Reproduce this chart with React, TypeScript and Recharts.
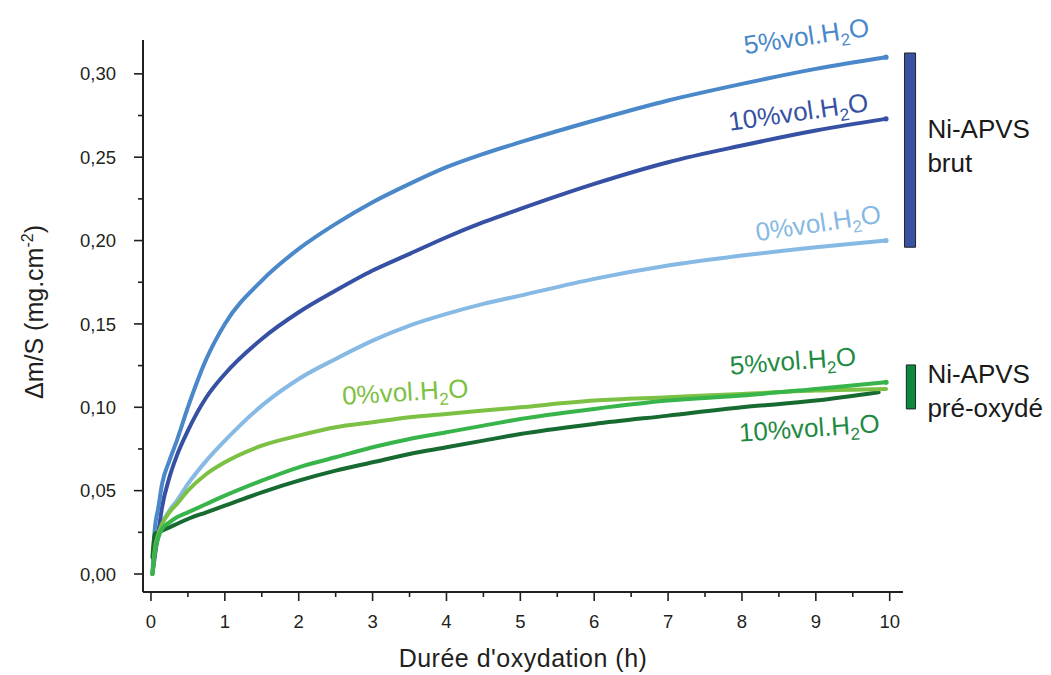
import { LineChart, Line, XAxis, YAxis, ReferenceDot, ReferenceArea, Label } from 'recharts'

// durée d'oxydation (h)
const TIME = [0.02, 0.05, 0.1, 0.15, 0.25, 0.35, 0.5, 0.75, 1, 1.5, 2, 2.5, 3, 3.5, 4, 4.5, 5, 6, 7, 8, 9, 9.95]
const TIME_PRE10 = [0.02, 0.05, 0.1, 0.15, 0.25, 0.35, 0.5, 0.75, 1, 1.5, 2, 2.5, 3, 3.5, 4, 4.5, 5, 6, 7, 8, 9, 9.85]

// Ni-APVS brut, Δm/S (mg.cm-2)
const BRUT_5 = [0.0, 0.026, 0.040, 0.054, 0.068, 0.080, 0.100, 0.129, 0.150, 0.176, 0.195, 0.210, 0.223, 0.234, 0.244, 0.252, 0.259, 0.272, 0.284, 0.294, 0.303, 0.310]
const BRUT_10 = [0.0, 0.010, 0.025, 0.040, 0.058, 0.071, 0.086, 0.106, 0.120, 0.141, 0.157, 0.170, 0.182, 0.192, 0.202, 0.211, 0.219, 0.234, 0.247, 0.257, 0.266, 0.273]
const BRUT_0 = [0.0, 0.012, 0.022, 0.030, 0.038, 0.044, 0.054, 0.068, 0.080, 0.101, 0.117, 0.129, 0.140, 0.149, 0.156, 0.162, 0.167, 0.177, 0.185, 0.191, 0.196, 0.200]

// Ni-APVS pré-oxydé
const PRE_0 = [0.0, 0.014, 0.024, 0.030, 0.037, 0.042, 0.050, 0.060, 0.067, 0.077, 0.083, 0.088, 0.091, 0.094, 0.096, 0.098, 0.100, 0.104, 0.106, 0.108, 0.110, 0.111]
const PRE_5 = [0.0, 0.012, 0.022, 0.027, 0.031, 0.034, 0.037, 0.042, 0.047, 0.056, 0.064, 0.070, 0.076, 0.081, 0.085, 0.089, 0.093, 0.099, 0.104, 0.107, 0.111, 0.115]
const PRE_10 = [0.010, 0.024, 0.025, 0.026, 0.028, 0.030, 0.033, 0.037, 0.041, 0.049, 0.056, 0.062, 0.067, 0.072, 0.076, 0.080, 0.084, 0.090, 0.095, 0.100, 0.104, 0.109]

const X_TICKS = [0, 0.5, 1, 1.5, 2, 2.5, 3, 3.5, 4, 4.5, 5, 5.5, 6, 6.5, 7, 7.5, 8, 8.5, 9, 9.5, 10]
const Y_TICKS = [0, 0.025, 0.05, 0.075, 0.1, 0.125, 0.15, 0.175, 0.2, 0.225, 0.25, 0.275, 0.3]

const FONT = '"Liberation Sans", Arial, Helvetica, sans-serif'
const AXIS = '#231f20'
const TICK_SIZE = 9

const toRows = (ts: number[], vs: number[]) => ts.map((t, i) => ({ t, v: vs[i] }))

const SERIES = [
  { key: 'b0', data: toRows(TIME, BRUT_0), color: '#86b9e4', end: true },
  { key: 'b10', data: toRows(TIME, BRUT_10), color: '#3651a3', end: true },
  { key: 'b5', data: toRows(TIME, BRUT_5), color: '#4a88c9', end: true },
  { key: 'p10', data: toRows(TIME_PRE10, PRE_10), color: '#176b31', end: false },
  { key: 'p0', data: toRows(TIME, PRE_0), color: '#7cc143', end: false },
  { key: 'p5', data: toRows(TIME, PRE_5), color: '#37b44a', end: true },
]

const ANNOTATIONS = [
  { x: 8.89, y: 0.3173, pct: '5', color: '#4a88c9', angle: -8.5 },
  { x: 8.78, y: 0.2718, pct: '10', color: '#3651a3', angle: -8 },
  { x: 9.05, y: 0.2052, pct: '0', color: '#86b9e4', angle: -8.5 },
  { x: 3.45, y: 0.1038, pct: '0', color: '#7cc143', angle: -3.5 },
  { x: 8.70, y: 0.1224, pct: '5', color: '#1f8a43', angle: -4.3 },
  { x: 8.92, y: 0.0822, pct: '10', color: '#1f8a43', angle: -4 },
]

const isMajor = (v: number, step: number) => Math.abs(v / step - Math.round(v / step)) < 1e-6

function XTick(props: any) {
  const { x, y, payload } = props
  const ay = y - TICK_SIZE - 4
  const major = isMajor(payload.value, 1)
  return (
    <g>
      <line x1={x} x2={x} y1={ay} y2={ay + (major ? 9 : 5)} stroke={AXIS} strokeWidth={1.6} />
      {major && (
        <text x={x} y={ay + 36} textAnchor="middle" fontSize={18.5} fontFamily={FONT} fill={AXIS}>
          {payload.value}
        </text>
      )}
    </g>
  )
}

function YTick(props: any) {
  const { x, y, payload } = props
  const ax = x + TICK_SIZE + 18
  const major = isMajor(payload.value, 0.05)
  return (
    <g>
      <line x1={ax} x2={ax - (major ? 9 : 5)} y1={y} y2={y} stroke={AXIS} strokeWidth={1.6} />
      {major && (
        <text x={ax - 27} y={y + 6.6} textAnchor="end" fontSize={18.5} fontFamily={FONT} fill={AXIS}>
          {payload.value.toFixed(2).replace('.', ',')}
        </text>
      )}
    </g>
  )
}

function H2OLabel({ cx, cy, pct, color, angle }: any) {
  return (
    <text x={cx} y={cy} textAnchor="middle" fontSize={26} fontFamily={FONT} fill={color}
      transform={`rotate(${angle}, ${cx}, ${cy})`}>
      {pct}%vol.H<tspan fontSize={17} dy={6}>2</tspan><tspan dy={-6}>O</tspan>
    </text>
  )
}

function GroupLabel({ cx, cy, lines }: any) {
  return (
    <text x={cx} y={cy} fontSize={26} fontFamily={FONT} fill="#1a1a1a">
      {lines.map((l: string, i: number) => (
        <tspan key={i} x={cx} dy={i === 0 ? 0 : 34}>{l}</tspan>
      ))}
    </text>
  )
}

export default function App() {
  return (
    <LineChart width={1035} height={667} margin={{ top: 32, right: 140, bottom: 0, left: 0 }}>
      <XAxis type="number" dataKey="t" domain={[-0.108, 10.18]} ticks={X_TICKS} allowDataOverflow
        height={83} tickSize={TICK_SIZE} tickMargin={4} tickLine={false} interval={0}
        axisLine={{ stroke: AXIS, strokeWidth: 2 }} tick={<XTick />}>
        <Label content={({ viewBox }: any) => (
          <text x={viewBox.x + viewBox.width / 2} y={viewBox.y + 75} textAnchor="middle"
            fontSize={25} fontFamily={FONT} fill={AXIS} letterSpacing={0.5}>
            Durée d'oxydation (h)
          </text>
        )} />
      </XAxis>
      <YAxis type="number" domain={[-0.0108, 0.3203]} ticks={Y_TICKS} allowDataOverflow
        width={135} tickSize={TICK_SIZE} tickMargin={18} tickLine={false} interval={0}
        axisLine={{ stroke: AXIS, strokeWidth: 2 }} tick={<YTick />}>
        <Label content={({ viewBox }: any) => {
          const lx = viewBox.x + 35
          const ly = viewBox.y + viewBox.height / 2 - 4
          return (
            <text x={lx} y={ly} textAnchor="middle" fontSize={25} fontFamily={FONT} fill={AXIS}
              transform={`rotate(-90, ${lx}, ${ly})`}>
              Δm/S (mg.cm<tspan fontSize={16} dy={-10}>-2</tspan><tspan dy={10}>)</tspan>
            </text>
          )
        }} />
      </YAxis>

      {SERIES.map((s) => (
        <Line key={s.key} data={s.data} dataKey="v" type="monotone" stroke={s.color} strokeWidth={4}
          isAnimationActive={false} strokeLinecap="round"
          dot={(p: any) => (s.end && p.index === s.data.length - 1
            ? <circle key={p.index} cx={p.cx} cy={p.cy} r={2.6} fill={s.color} />
            : <g key={p.index} />)}
          activeDot={false} />
      ))}

      {ANNOTATIONS.map((a, i) => (
        <ReferenceDot key={i} x={a.x} y={a.y} r={0} ifOverflow="visible"
          shape={(p: any) => <H2OLabel cx={p.cx} cy={p.cy} pct={a.pct} color={a.color} angle={a.angle} />} />
      ))}

      <ReferenceArea x1={10.2} x2={10.35} y1={0.196} y2={0.3125} ifOverflow="visible"
        fill="#3a52a3" fillOpacity={1} stroke="#222" strokeWidth={1} />
      <ReferenceArea x1={10.225} x2={10.35} y1={0.099} y2={0.1254} ifOverflow="visible"
        fill="#0b8a3f" fillOpacity={1} stroke="#222" strokeWidth={1} />

      <ReferenceDot x={10.51} y={0.2615} r={0} ifOverflow="visible"
        shape={(p: any) => <GroupLabel cx={p.cx} cy={p.cy} lines={['Ni-APVS', 'brut']} />} />
      <ReferenceDot x={10.51} y={0.1146} r={0} ifOverflow="visible"
        shape={(p: any) => <GroupLabel cx={p.cx} cy={p.cy} lines={['Ni-APVS', 'pré-oxydé']} />} />
    </LineChart>
  )
}
